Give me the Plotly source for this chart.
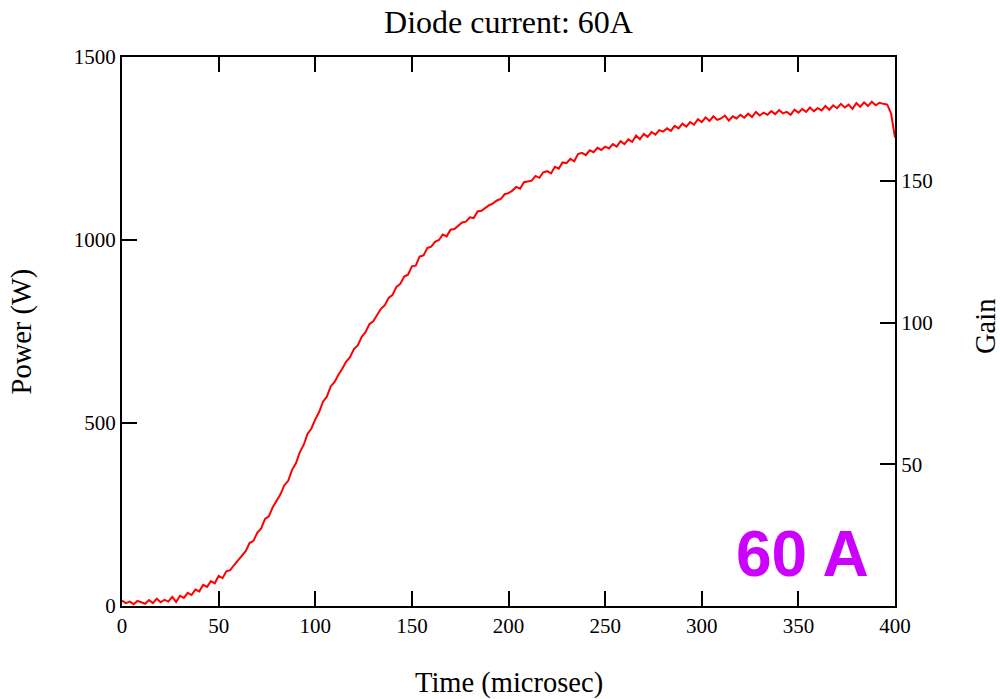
import plotly.graph_objects as go

# Time axis (microsec), sampled every 2 us
time_us = list(range(0, 401, 2))

# Output power (W)
power_w = [
    15, 8, 12, 5, 14, 9, 6, 16, 8, 20,
    10, 17, 12, 25, 11, 28, 22, 36, 30, 45,
    40, 58, 52, 68, 62, 82, 76, 95, 98, 112,
    125, 138, 150, 172, 178, 200, 212, 238, 245, 270,
    288, 305, 330, 342, 372, 390, 420, 440, 470, 485,
    510, 530, 558, 572, 600, 612, 632, 648, 668, 680,
    702, 712, 735, 748, 770, 778, 795, 812, 822, 842,
    850, 872, 880, 900, 905, 928, 930, 955, 958, 978,
    982, 995, 1000, 1015, 1010, 1028, 1030, 1040, 1048, 1050,
    1062, 1060, 1078, 1080, 1088, 1095, 1100, 1108, 1112, 1125,
    1128, 1135, 1145, 1140, 1158, 1160, 1162, 1175, 1170, 1185,
    1188, 1182, 1200, 1195, 1212, 1210, 1222, 1215, 1235, 1238,
    1232, 1245, 1240, 1252, 1246, 1255, 1250, 1262, 1255, 1270,
    1262, 1275, 1268, 1285, 1275, 1290, 1282, 1295, 1288, 1300,
    1296, 1305, 1298, 1312, 1305, 1318, 1310, 1322, 1315, 1330,
    1322, 1335, 1325, 1338, 1328, 1332, 1340, 1326, 1338, 1332,
    1342, 1334, 1345, 1336, 1350, 1340, 1348, 1342, 1352, 1344,
    1355, 1346, 1350, 1342, 1356, 1348, 1358, 1350, 1362, 1352,
    1360, 1354, 1366, 1356, 1368, 1360, 1372, 1362, 1370, 1358,
    1374, 1364, 1376, 1366, 1378, 1368, 1375, 1372, 1370, 1345,
    1280,
]

x_ticks = [0, 50, 100, 150, 200, 250, 300, 350, 400]
power_ticks = [0, 500, 1000, 1500]
gain_ticks = [50, 100, 150]
gain_range = [0, 193.7]

SERIF = "Liberation Serif"

fig = go.Figure()
fig.add_trace(go.Scatter(
    x=time_us, y=power_w, mode="lines",
    line=dict(color="#ff0000", width=2),
    showlegend=False, hoverinfo="skip",
))
# empty trace to attach the gain axis
fig.add_trace(go.Scatter(x=[None], y=[None], yaxis="y2", showlegend=False))

fig.update_layout(
    width=1000, height=699,
    paper_bgcolor="white", plot_bgcolor="white",
    margin=dict(l=122, r=105, t=57, b=93),
    font=dict(family=SERIF, color="black", size=21),
    title=dict(text="Diode current: 60A", x=0.5085, xanchor="center",
               y=0.9685, yanchor="middle", font=dict(family=SERIF, size=32)),
    xaxis=dict(
        range=[0, 400], tickvals=x_ticks, ticks="inside", ticklen=15,
        tickwidth=1.5, tickcolor="black", showline=True, linecolor="black",
        linewidth=2, mirror="ticks", showgrid=False, zeroline=False,
        tickfont=dict(family=SERIF, size=21),
    ),
    yaxis=dict(
        range=[0, 1500], tickvals=power_ticks, ticks="inside", ticklen=15,
        tickwidth=1.5, tickcolor="black", showline=True, linecolor="black",
        linewidth=2, showgrid=False, zeroline=False,
        tickfont=dict(family=SERIF, size=21),
    ),
    yaxis2=dict(
        range=gain_range, tickvals=gain_ticks, ticks="inside", ticklen=15,
        tickwidth=1.5, tickcolor="black", showline=True, linecolor="black",
        linewidth=2, showgrid=False, zeroline=False, overlaying="y",
        side="right", tickfont=dict(family=SERIF, size=21),
    ),
    annotations=[
        dict(text="Time (microsec)", xref="paper", yref="paper", x=0.5,
             y=-0.140, xanchor="center", yanchor="middle", showarrow=False,
             font=dict(family=SERIF, size=28.5)),
        dict(text="Power (W)", xref="paper", yref="paper", x=-0.1294,
             y=0.5, xanchor="center", yanchor="middle", textangle=-90,
             showarrow=False, font=dict(family=SERIF, size=28.5)),
        dict(text="Gain", xref="paper", yref="paper", x=1.1164,
             y=0.51, xanchor="center", yanchor="middle", textangle=-90,
             showarrow=False, font=dict(family=SERIF, size=28.5)),
        dict(text="<b>60 A</b>", xref="x", yref="y", x=351.9, y=143,
             xanchor="center", yanchor="middle", showarrow=False,
             font=dict(family="Liberation Sans", size=64, color="#cc00ff")),
    ],
)

# remove the default page margin so the 1000x699 figure fills the window
fig.write_html("out.html", config={"displayModeBar": False},
               post_script="document.body.style.margin='0';")
